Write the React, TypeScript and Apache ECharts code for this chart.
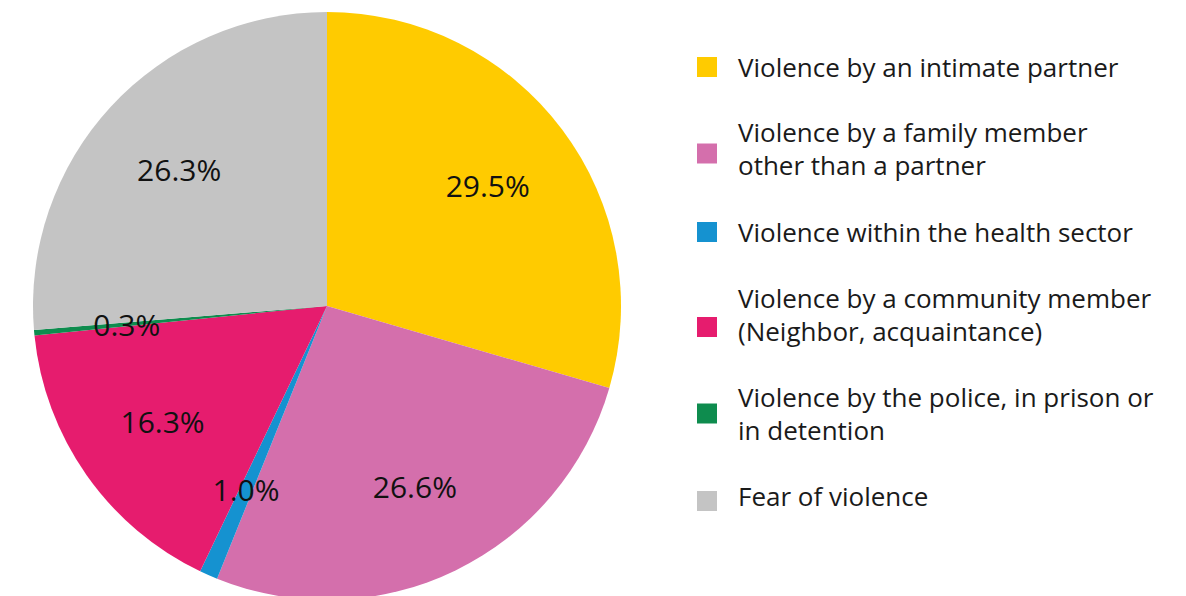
import React, { useEffect, useRef } from "react";
import * as echarts from "echarts";

const categories = [
  "Violence by an intimate partner",
  "Violence by a family member\nother than a partner",
  "Violence within the health sector",
  "Violence by a community member\n(Neighbor, acquaintance)",
  "Violence by the police, in prison or\nin detention",
  "Fear of violence",
];
const values = [29.5, 26.6, 1.0, 16.3, 0.3, 26.3];
const colors = ["#FFCB00", "#D46FAC", "#1592D0", "#E61C6E", "#0E8C4E", "#C4C4C4"];

// legend layout (per item): top of the item box and extra spacer below the text
const legendTops = [50.5, 115.5, 215.5, 281, 380.5, 479.5];
const legendSpacer = [0, 10, 0, 26, 0, 10];

export default function App() {
  const ref = useRef<HTMLDivElement>(null);
  useEffect(() => {
    document.body.style.margin = "0";
    const chart = echarts.init(ref.current!, null, { renderer: "svg" });
    const data = categories.map((name, i) => ({
      name,
      value: values[i],
      itemStyle: { color: colors[i] },
    }));
    const font = "'Open Sans', Roboto, sans-serif";
    const legends = categories.map((name, i) => ({
      data: [name],
      orient: "vertical",
      left: 697,
      top: legendTops[i],
      padding: 0,
      itemWidth: 20,
      itemHeight: 20,
      icon: "rect",
      selectedMode: false,
      formatter: (n: string) =>
        legendSpacer[i] > 0 ? n + "\n{sp| }" : n,
      textStyle: {
        fontFamily: font,
        fontSize: 26,
        lineHeight: 33,
        color: "#1a1a1a",
        padding: [0, 0, 0, 16],
        rich: {
          sp: { fontSize: 1, lineHeight: legendSpacer[i], height: legendSpacer[i] },
        },
      },
    }));
    chart.setOption({
      animation: false,
      backgroundColor: "#ffffff",
      legend: legends,
      series: [
        {
          type: "pie",
          center: [327, 306],
          radius: [0, 294],
          startAngle: 90,
          clockwise: true,
          data,
          label: { show: false },
          labelLine: { show: false },
          emphasis: { disabled: true },
          itemStyle: { borderWidth: 0 },
        },
        {
          type: "pie",
          center: [327, 306],
          radius: [102, 294],
          startAngle: 90,
          clockwise: true,
          silent: true,
          data: categories.map((name, i) => ({ name, value: values[i] })),
          itemStyle: { color: "rgba(0,0,0,0)", borderWidth: 0 },
          label: {
            show: true,
            position: "inside",
            formatter: (p: any) => p.value.toFixed(1) + "%",
            fontFamily: font,
            fontSize: 30,
            color: "#111111",
          },
          labelLine: { show: false },
          emphasis: { disabled: true },
        },
      ],
    });
    return () => chart.dispose();
  }, []);
  return <div ref={ref} style={{ width: 1186, height: 596 }} />;
}
